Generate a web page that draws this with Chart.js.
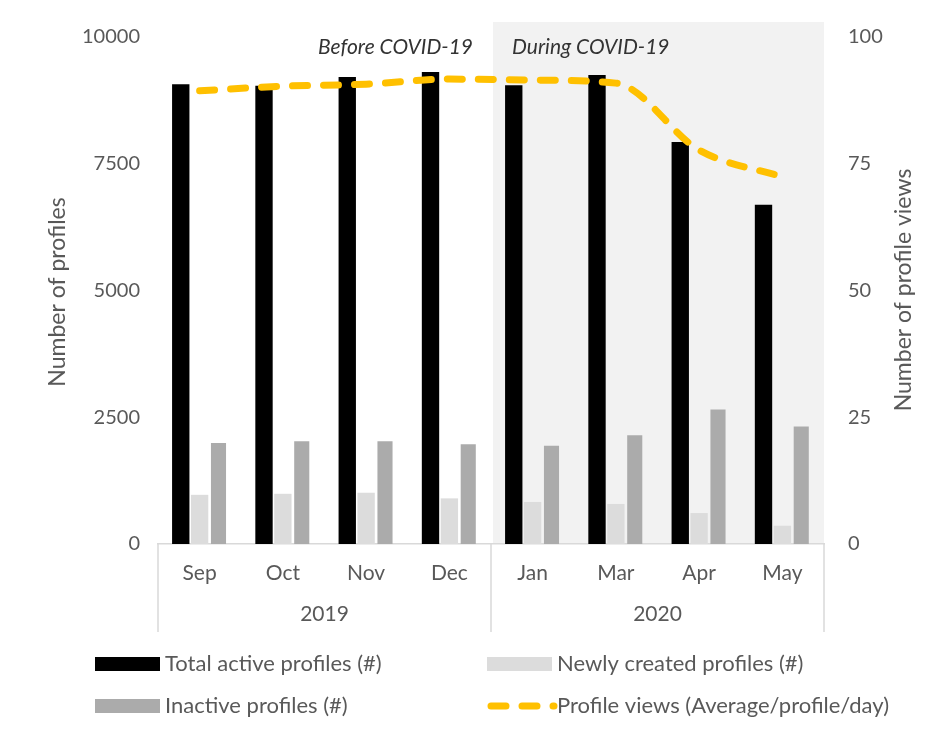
<!DOCTYPE html>
<html>
<head>
<meta charset="utf-8">
<script src="https://cdn.jsdelivr.net/npm/chart.js@4.4.0/dist/chart.umd.min.js"></script>
<style>
  html, body { margin: 0; padding: 0; background: #fff; }
  canvas { display: block; }
</style>
</head>
<body>
<canvas id="profilesChart" width="938" height="733"></canvas>
<script>
const months = ['Sep', 'Oct', 'Nov', 'Dec', 'Jan', 'Mar', 'Apr', 'May'];
const years = ['2019', '2020'];
const monthsPerYear = [4, 4];
const totalActive = [9070, 9040, 9210, 9310, 9050, 9250, 7930, 6690];
const newlyCreated = [970, 990, 1010, 900, 830, 790, 610, 360];
const inactive = [1990, 2025, 2025, 1965, 1940, 2145, 2655, 2320];
const profileViews = [89.4, 90.3, 90.7, 91.7, 91.5, 90.9, 77.7, 72.4];
const leftTicks = [0, 2500, 5000, 7500, 10000];
const rightTicks = [0, 25, 50, 75, 100];

const FONT = 'Lato, "Open Sans", sans-serif';
const GREY = '#595959';
const LINE_GREY = '#d9d9d9';
const YELLOW = '#FFC000';

// shaded covid period, year boxes, titles and the 2-column legend
const covidPlugin = {
  id: 'covidPlugin',
  beforeDraw(chart) {
    const {ctx, chartArea, scales: {x}} = chart;
    const split = (x.getPixelForValue(3) + x.getPixelForValue(4)) / 2;
    ctx.save();
    ctx.fillStyle = '#f2f2f2';
    ctx.fillRect(split + 2, 22, chartArea.right - split - 2, chartArea.bottom - 22);
    ctx.restore();
  },
  afterDraw(chart) {
    const {ctx, chartArea, scales: {x}} = chart;
    const step = x.getPixelForValue(1) - x.getPixelForValue(0);
    ctx.save();

    // year boxes under the months
    ctx.strokeStyle = LINE_GREY;
    ctx.lineWidth = 1.5;
    let idx = 0;
    const edges = [chartArea.left];
    years.forEach((yr, i) => {
      const first = x.getPixelForValue(idx) - step / 2;
      idx += monthsPerYear[i];
      const last = x.getPixelForValue(idx - 1) + step / 2;
      edges.push(last);
      ctx.fillStyle = GREY;
      ctx.font = '21px ' + FONT;
      ctx.textAlign = 'center';
      ctx.textBaseline = 'middle';
      ctx.fillText(yr, (first + last) / 2, 614);
    });
    edges.forEach(ex => {
      ctx.beginPath();
      ctx.moveTo(ex, chartArea.bottom);
      ctx.lineTo(ex, 632);
      ctx.stroke();
    });

    // period labels
    const split = (x.getPixelForValue(3) + x.getPixelForValue(4)) / 2;
    ctx.font = 'italic 21px ' + FONT;
    ctx.fillStyle = '#333333';
    ctx.textBaseline = 'middle';
    ctx.textAlign = 'right';
    ctx.fillText('Before COVID-19', split - 18, 47);
    ctx.textAlign = 'left';
    ctx.fillText('During COVID-19', split + 21, 47);

    // axis titles, both read bottom to top
    ctx.font = '23px ' + FONT;
    ctx.fillStyle = GREY;
    ctx.textAlign = 'center';
    ctx.save();
    ctx.translate(58, 292);
    ctx.rotate(-Math.PI / 2);
    ctx.fillText('Number of profiles', 0, 0);
    ctx.restore();
    ctx.save();
    ctx.translate(904, 290);
    ctx.rotate(-Math.PI / 2);
    ctx.fillText('Number of profile views', 0, 0);
    ctx.restore();

    // legend
    const ds = chart.data.datasets;
    const spots = [[95, 664], [487, 664], [95, 706], [487, 706]];
    ctx.font = '22px ' + FONT;
    ctx.textAlign = 'left';
    ds.forEach((d, k) => {
      const [lx, ly] = spots[k];
      if (d.type === 'line') {
        ctx.save();
        ctx.strokeStyle = d.borderColor;
        ctx.lineWidth = 7;
        ctx.lineCap = 'round';
        ctx.setLineDash([15, 16]);
        ctx.beginPath();
        ctx.moveTo(lx + 4, ly);
        ctx.lineTo(lx + 67, ly);
        ctx.stroke();
        ctx.restore();
      } else {
        ctx.fillStyle = d.backgroundColor;
        ctx.fillRect(lx, ly - 7, 65, 14);
      }
      ctx.fillStyle = GREY;
      ctx.fillText(d.label, lx + 70, ly);
    });

    ctx.restore();
  }
};

new Chart(document.getElementById('profilesChart'), {
  data: {
    labels: months,
    datasets: [
      {
        type: 'bar',
        label: 'Total active profiles (#)',
        data: totalActive,
        backgroundColor: '#000000',
        yAxisID: 'y',
        order: 1,
        barPercentage: 0.92,
        categoryPercentage: 0.68
      },
      {
        type: 'bar',
        label: 'Newly created profiles (#)',
        data: newlyCreated,
        backgroundColor: '#dcdcdc',
        yAxisID: 'y',
        order: 1,
        barPercentage: 0.92,
        categoryPercentage: 0.68
      },
      {
        type: 'bar',
        label: 'Inactive profiles (#)',
        data: inactive,
        backgroundColor: '#ababab',
        yAxisID: 'y',
        order: 1,
        barPercentage: 0.8,
        categoryPercentage: 0.68
      },
      {
        type: 'line',
        label: 'Profile views (Average/profile/day)',
        data: profileViews,
        borderColor: YELLOW,
        borderWidth: 7,
        borderDash: [15, 16],
        borderCapStyle: 'round',
        cubicInterpolationMode: 'monotone',
        pointRadius: 0,
        yAxisID: 'y1',
        order: 0
      }
    ]
  },
  options: {
    responsive: false,
    animation: false,
    layout: { padding: { top: 37, left: 0, right: 0, bottom: 0 } },
    plugins: {
      legend: { display: false },
      tooltip: { enabled: false }
    },
    scales: {
      x: {
        offset: true,
        grid: { display: false, drawTicks: false },
        border: { display: true, color: LINE_GREY, width: 1.5 },
        ticks: { color: GREY, font: { family: FONT, size: 21 }, padding: 17 },
        afterFit: s => { s.height = 189; }
      },
      y: {
        position: 'left',
        min: 0,
        max: 10000,
        grid: { display: false, drawTicks: false },
        border: { display: false },
        afterBuildTicks: s => { s.ticks = leftTicks.map(v => ({value: v})); },
        ticks: { color: GREY, font: { family: FONT, size: 20 }, padding: 18, callback: v => String(v) },
        afterFit: s => { s.width = 158; }
      },
      y1: {
        position: 'right',
        min: 0,
        max: 100,
        grid: { display: false, drawTicks: false },
        border: { display: false },
        afterBuildTicks: s => { s.ticks = rightTicks.map(v => ({value: v})); },
        ticks: { color: GREY, font: { family: FONT, size: 20 }, padding: 24, callback: v => String(v) },
        afterFit: s => { s.width = 114; }
      }
    }
  },
  plugins: [covidPlugin]
});
</script>
</body>
</html>
